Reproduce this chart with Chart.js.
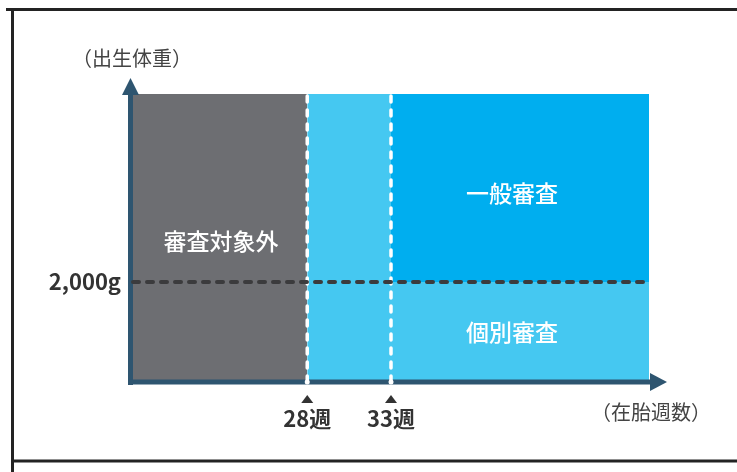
<!DOCTYPE html>
<html lang="ja">
<head>
<meta charset="utf-8">
<title>出生体重と在胎週数</title>
<script src="https://cdn.jsdelivr.net/npm/chart.js@4.4.1/dist/chart.umd.min.js"></script>
<style>
  html, body { margin: 0; padding: 0; background: #fff; }
  .wrapper { position: relative; width: 737px; height: 472px; }
</style>
</head>
<body>
<div class="wrapper"><canvas id="reviewChart"></canvas></div>
<script>
// x = 在胎週数, y = 出生体重 (schematic)
const weekRange = [17.6, 48.4];
const weightRange = [0, 5760];
const weekTicks = [28, 33];
const weightTicks = [2000];
const weightLine = 2000;
const regionNames = ['審査対象外', '個別審査', '一般審査'];
const axisTitles = ['（出生体重）', '（在胎週数）'];

const FONT = '"Noto Sans CJK JP", "Noto Sans", sans-serif';
const gray = '#6d6e72';
const lightBlue = '#45c8f1';
const brightBlue = '#00aeef';
const axisColor = '#2e5570';
const textColor = '#333333';

const maxWeight = weightRange[1];

// datasets, drawn bottom -> top by "order"
const datasets = [
    { // horizontal 2,000g line
        data: [{ x: weekRange[0], y: weightLine }, { x: weekRange[1], y: weightLine }],
        borderColor: '#3b3b3d', borderWidth: 4, borderDash: [6, 8], borderCapStyle: 'round',
        pointRadius: 0, fill: false, order: 0, clip: false
    },
    { // 28週 line
        data: [{ x: weekTicks[0], y: 0 }, { x: weekTicks[0], y: maxWeight }],
        borderColor: '#ffffff', borderWidth: 3.5, borderDash: [6, 8], borderCapStyle: 'round',
        pointRadius: ctx => ctx.dataIndex === 0 ? 2.5 : 0, pointBackgroundColor: '#ffffff',
        pointBorderWidth: 0, fill: false, order: 1, clip: false
    },
    { // 33週 line
        data: [{ x: weekTicks[1], y: 0 }, { x: weekTicks[1], y: maxWeight }],
        borderColor: '#ffffff', borderWidth: 3.5, borderDash: [6, 8], borderCapStyle: 'round',
        pointRadius: ctx => ctx.dataIndex === 0 ? 2.5 : 0, pointBackgroundColor: '#ffffff',
        pointBorderWidth: 0, fill: false, order: 1, clip: false
    },
    { // 一般審査
        data: [{ x: weekTicks[1], y: maxWeight }, { x: weekRange[1], y: maxWeight }],
        backgroundColor: brightBlue, borderColor: 'transparent', borderWidth: 0,
        pointRadius: 0, fill: { value: weightLine }, order: 2
    },
    { // 個別審査 (28-33週 + below 2,000g)
        data: [{ x: weekTicks[0], y: maxWeight }, { x: weekRange[1], y: maxWeight }],
        backgroundColor: lightBlue, borderColor: 'transparent', borderWidth: 0,
        pointRadius: 0, fill: 'origin', order: 3
    },
    { // 審査対象外
        data: [{ x: weekRange[0], y: maxWeight }, { x: weekTicks[0], y: maxWeight }],
        backgroundColor: gray, borderColor: 'transparent', borderWidth: 0,
        pointRadius: 0, fill: 'origin', order: 4
    }
];
const lastFillIndex = 3;

const drawingPlugin = {
    id: 'drawing',
    beforeDraw(chart) {
        const ctx = chart.ctx;
        ctx.save();
        ctx.strokeStyle = '#232323';
        ctx.lineWidth = 3;
        ctx.beginPath();
        ctx.moveTo(6, 9.5); ctx.lineTo(737, 9.5);
        ctx.moveTo(12.5, 8); ctx.lineTo(12.5, 472);
        ctx.moveTo(11, 461); ctx.lineTo(737, 461);
        ctx.stroke();
        ctx.restore();
    },
    afterDatasetDraw(chart, args) {
        if (args.index !== lastFillIndex) return;
        const ctx = chart.ctx;
        const a = chart.chartArea;
        const ax = a.left - 2.5;
        const ay = a.bottom;
        ctx.save();
        ctx.fillStyle = axisColor;
        // y axis
        ctx.fillRect(ax - 2.5, a.top + 1, 5, ay + 3 - a.top - 1);
        ctx.beginPath();
        ctx.moveTo(ax, a.top - 16);
        ctx.lineTo(ax - 8.5, a.top + 1);
        ctx.lineTo(ax + 8.5, a.top + 1);
        ctx.closePath();
        ctx.fill();
        // x axis
        ctx.fillRect(ax - 2.5, ay - 2.5, a.right + 2 - ax + 2.5, 5);
        ctx.beginPath();
        ctx.moveTo(a.right + 18, ay);
        ctx.lineTo(a.right + 1, ay - 9);
        ctx.lineTo(a.right + 1, ay + 9);
        ctx.closePath();
        ctx.fill();
        ctx.restore();
    },
    afterDraw(chart) {
        const ctx = chart.ctx;
        const a = chart.chartArea;
        const xs = chart.scales.x;
        const ys = chart.scales.y;
        ctx.save();
        // tick markers
        ctx.fillStyle = textColor;
        xs.ticks.forEach(t => {
            const x = xs.getPixelForValue(t.value);
            ctx.beginPath();
            ctx.moveTo(x, a.bottom + 13);
            ctx.lineTo(x - 6, a.bottom + 21);
            ctx.lineTo(x + 6, a.bottom + 21);
            ctx.closePath();
            ctx.fill();
        });
        // axis titles
        ctx.fillStyle = '#444444';
        ctx.font = '20px ' + FONT;
        ctx.textAlign = 'center';
        ctx.textBaseline = 'middle';
        ctx.fillText(axisTitles[0], a.left - 1, a.top - 36);
        ctx.fillText(axisTitles[1], a.right + 2, a.bottom + 30);
        // region labels
        ctx.fillStyle = '#ffffff';
        ctx.font = '500 23px ' + FONT;
        const x0 = xs.getPixelForValue(weekRange[0]);
        const x28 = xs.getPixelForValue(weekTicks[0]);
        const x33 = xs.getPixelForValue(weekTicks[1]);
        const xEnd = xs.getPixelForValue(weekRange[1]);
        const yTop = ys.getPixelForValue(maxWeight);
        const yLine = ys.getPixelForValue(weightLine);
        const yBottom = ys.getPixelForValue(0);
        ctx.fillText(regionNames[0], (x0 + x28) / 2 + 1, (yTop + yBottom) / 2 + 3);
        ctx.fillText(regionNames[2], (x33 + xEnd) / 2 - 8, (yTop + yLine) / 2 + 5);
        ctx.fillText(regionNames[1], (x33 + xEnd) / 2 - 8, (yLine + yBottom) / 2);
        ctx.restore();
    }
};

const chart = new Chart(document.getElementById('reviewChart'), {
    type: 'line',
    data: { datasets: datasets },
    options: {
        responsive: true,
        maintainAspectRatio: false,
        animation: false,
        events: [],
        layout: { padding: { top: 94, right: 88, left: 0, bottom: 0 } },
        plugins: { legend: { display: false }, tooltip: { enabled: false } },
        scales: {
            x: {
                type: 'linear',
                min: weekRange[0],
                max: weekRange[1],
                afterBuildTicks: s => { s.ticks = weekTicks.map(v => ({ value: v })); },
                afterFit: s => { s.height = 90; },
                grid: { display: false, drawTicks: false },
                border: { display: false },
                ticks: {
                    callback: v => v + '週',
                    color: textColor,
                    font: { family: FONT, size: 22, weight: 'bold' },
                    padding: 23,
                    maxRotation: 0,
                    autoSkip: false
                }
            },
            y: {
                type: 'linear',
                min: weightRange[0],
                max: weightRange[1],
                afterBuildTicks: s => { s.ticks = weightTicks.map(v => ({ value: v })); },
                afterFit: s => { s.width = 133; },
                grid: { display: false, drawTicks: false },
                border: { display: false },
                ticks: {
                    callback: v => v.toLocaleString('en-US') + 'g',
                    color: textColor,
                    font: { family: FONT, size: 22, weight: 'bold' },
                    padding: 12
                }
            }
        }
    },
    plugins: [drawingPlugin]
});
</script>
</body>
</html>
